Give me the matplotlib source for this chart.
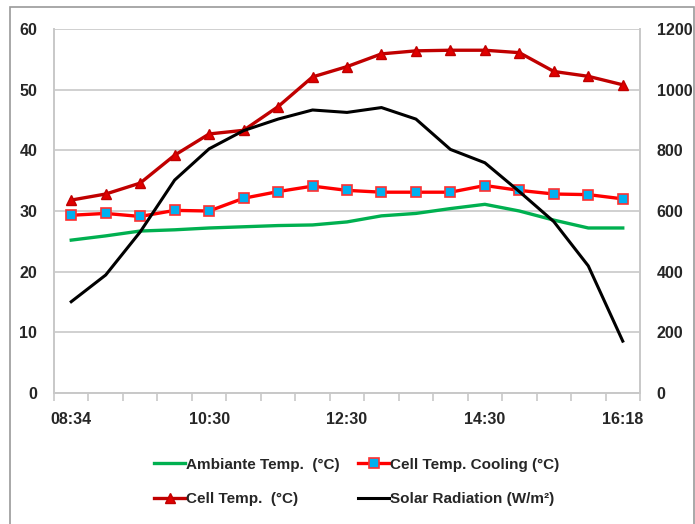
import matplotlib
matplotlib.use("Agg")
import matplotlib.pyplot as plt
from matplotlib.patches import Rectangle

plt.rcParams['font.family'] = ['Liberation Sans', 'DejaVu Sans']

# Data (17 readings, 08:34 -> 16:18)
time_labels = ["08:34", "10:30", "12:30", "14:30", "16:18"]
label_idx = [0, 4, 8, 12, 16]
n_points = 17

ambient = [25.2, 25.9, 26.7, 26.9, 27.2, 27.4, 27.6, 27.7, 28.2,
           29.2, 29.6, 30.4, 31.1, 30.0, 28.5, 27.2, 27.2]
cell_cooling = [29.3, 29.6, 29.1, 30.1, 30.0, 32.1, 33.2, 34.1, 33.4,
                33.1, 33.1, 33.1, 34.2, 33.4, 32.8, 32.7, 32.0]
cell_temp = [31.8, 32.8, 34.6, 39.2, 42.7, 43.3, 47.2, 52.1, 53.8,
             55.9, 56.4, 56.5, 56.5, 56.1, 53.0, 52.2, 50.8]
solar = [301, 389, 531, 702, 805, 865, 903, 933, 925,
         941, 903, 803, 759, 664, 565, 419, 171]

x = list(range(n_points))

fig = plt.figure(figsize=(6.95, 5.24), dpi=100)
fig.patches.append(Rectangle((10 / 695, -0.1), 684 / 695, 1.1 - 7 / 524,
                             transform=fig.transFigure, fill=False,
                             edgecolor='#9a9a9a', linewidth=1.2))

ax = fig.add_axes([54 / 695, 1 - 393 / 524, 586 / 695, 364 / 524])
ax2 = ax.twinx()

grid_col = '#c8c8c8'
txt_col = '#262626'

l1, = ax.plot(x, ambient, color='#00b050', lw=2.4, label='Ambiante Temp.  (°C)', zorder=3)
l2, = ax.plot(x, cell_cooling, color='#ff0000', lw=2.4, marker='s', ms=6.5,
              mfc='#00b0f0', mec='#ff3030', mew=1.2, label='Cell Temp. Cooling (°C)', zorder=4)
l3, = ax.plot(x, cell_temp, color='#c00000', lw=2.4, marker='^', ms=7.5,
              mfc='#e00000', mec='#c00000', label='Cell Temp.  (°C)', zorder=4)
l4, = ax2.plot(x, solar, color='black', lw=2.2, label='Solar Radiation (W/m²)', zorder=3)

ax.set_xlim(-0.5, n_points - 0.5)
ax.set_ylim(0, 60)
ax2.set_ylim(0, 1200)
ax.set_yticks(range(0, 61, 10))
ax2.set_yticks(range(0, 1201, 200))
ax.yaxis.grid(True, color=grid_col, lw=1.2)
ax.set_axisbelow(True)

# category axis: ticks on boundaries, labels on selected points
ax.set_xticks([i - 0.5 for i in range(n_points + 1)])
ax.set_xticklabels([])
ax.set_xticks(label_idx, minor=True)
ax.set_xticklabels(time_labels, minor=True)
ax.tick_params(axis='x', which='major', length=6, color=grid_col, width=1.2, direction='out')
ax.tick_params(axis='x', which='minor', length=0, pad=14, labelsize=11.5, labelcolor=txt_col)
ax.tick_params(axis='y', length=0, pad=12, labelsize=11.5, labelcolor=txt_col)
ax2.tick_params(axis='y', length=0, pad=12, labelsize=11.5, labelcolor=txt_col)

for a in (ax, ax2):
    a.spines['top'].set_visible(False)
    for side in ('left', 'right', 'bottom'):
        a.spines[side].set_color(grid_col)
        a.spines[side].set_linewidth(1.2)

for lab in ax.get_xticklabels(minor=True) + ax.get_yticklabels() + ax2.get_yticklabels():
    lab.set_fontweight('bold')

# column-wise fill: Ambiante / Cell Temp in col 1, Cooling / Solar in col 2
handles = [l1, l3, l2, l4]
leg = fig.legend(handles, [h.get_label() for h in handles],
                 ncol=2, loc='center', bbox_to_anchor=(357 / 695, 1 - 482 / 524),
                 frameon=False, handlelength=2.0, handletextpad=0.1,
                 columnspacing=1.2, labelspacing=1.35,
                 prop={'size': 11, 'weight': 'bold'})
for t in leg.get_texts():
    t.set_color(txt_col)

fig.savefig('out.png', dpi=100)
